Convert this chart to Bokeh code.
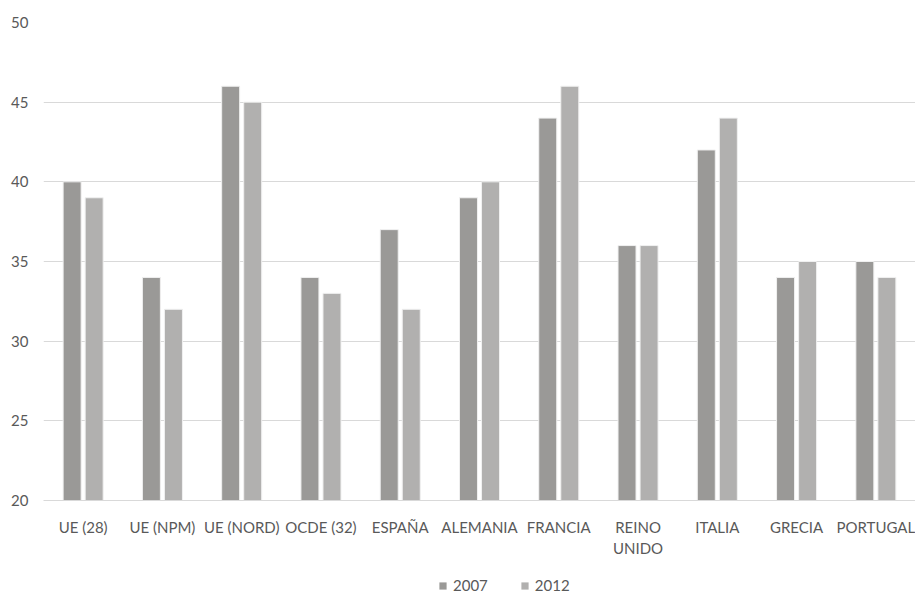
from bokeh.plotting import figure
from bokeh.layouts import column
from bokeh.models import ColumnDataSource, FactorRange, Range1d, FixedTicker, Legend, LegendItem
from bokeh.transform import dodge
from bokeh.embed import file_html
from bokeh.resources import INLINE

categories = ["UE (28)", "UE (NPM)", "UE (NORD)", "OCDE (32)", "ESPAÑA", "ALEMANIA",
              "FRANCIA", "REINO\nUNIDO", "ITALIA", "GRECIA", "PORTUGAL"]
values_2007 = [40, 34, 46, 34, 37, 39, 44, 36, 42, 34, 35]
values_2012 = [39, 32, 45, 33, 32, 40, 46, 36, 44, 35, 34]
series_names = ["2007", "2012"]
series_colors = ["#9a9997", "#b1b0af"]
y_ticks = [20, 25, 30, 35, 40, 45, 50]

src = ColumnDataSource(dict(cat=categories, v2007=values_2007, v2012=values_2012))

FONT = "Lato"
TXT = "#595959"
FS = "15px"

p = figure(width=915, height=560, x_range=FactorRange(factors=categories),
           y_range=Range1d(20, 50), output_backend="svg", toolbar_location=None,
           min_border_left=43, min_border_right=0, min_border_top=22, min_border_bottom=60)

p.vbar(x=dodge("cat", -0.139, range=p.x_range), top="v2007", bottom=20, width=0.227,
       source=src, fill_color=series_colors[0], line_color="#f0f0f0", line_width=1)
p.vbar(x=dodge("cat", 0.139, range=p.x_range), top="v2012", bottom=20, width=0.227,
       source=src, fill_color=series_colors[1], line_color="#f0f0f0", line_width=1)

p.outline_line_color = None
p.xgrid.grid_line_color = None
p.ygrid.grid_line_color = "#d9d9d9"
p.ygrid.level = "underlay"
p.yaxis.ticker = FixedTicker(ticks=y_ticks)

p.yaxis.axis_line_color = None
p.yaxis.major_tick_line_color = None
p.yaxis.minor_tick_line_color = None
p.yaxis.major_label_standoff = 9
p.yaxis.major_label_text_font = FONT
p.yaxis.major_label_text_font_size = FS
p.yaxis.major_label_text_color = TXT

p.xaxis.axis_line_color = "#d9d9d9"
p.xaxis.major_tick_line_color = None
p.xaxis.minor_tick_line_color = None
p.xaxis.major_label_standoff = 11
p.xaxis.major_label_text_font = FONT
p.xaxis.major_label_text_font_size = FS
p.xaxis.major_label_text_color = TXT
p.xaxis.major_label_orientation = "horizontal"

# Legend strip below the chart (its frame is aligned with the chart frame)
lg = figure(width=915, height=34, x_range=Range1d(0, 1), y_range=Range1d(0, 1),
            output_backend="svg", toolbar_location=None,
            min_border_left=0, min_border_right=0, min_border_top=0, min_border_bottom=0)
lg.axis.visible = False
lg.grid.visible = False
lg.outline_line_color = None
hidden = ColumnDataSource(dict(x=[-5], top=[-5]))
k1 = lg.vbar(x="x", top="top", bottom=-6, width=0.1, source=hidden,
             fill_color=series_colors[0], line_color=None)
k2 = lg.vbar(x="x", top="top", bottom=-6, width=0.1, source=hidden,
             fill_color=series_colors[1], line_color=None)

legend = Legend(items=[LegendItem(label=series_names[0], renderers=[k1]),
                       LegendItem(label=series_names[1], renderers=[k2])],
                orientation="horizontal", location=(395, 0),
                border_line_color=None, background_fill_alpha=0,
                padding=0, margin=0, spacing=32, label_standoff=6,
                glyph_width=9, glyph_height=9,
                label_text_font=FONT, label_text_font_size=FS, label_text_color=TXT)
lg.add_layout(legend, "center")

layout = column(p, lg, spacing=0)
open("out.html", "w").write(file_html(layout, INLINE))
